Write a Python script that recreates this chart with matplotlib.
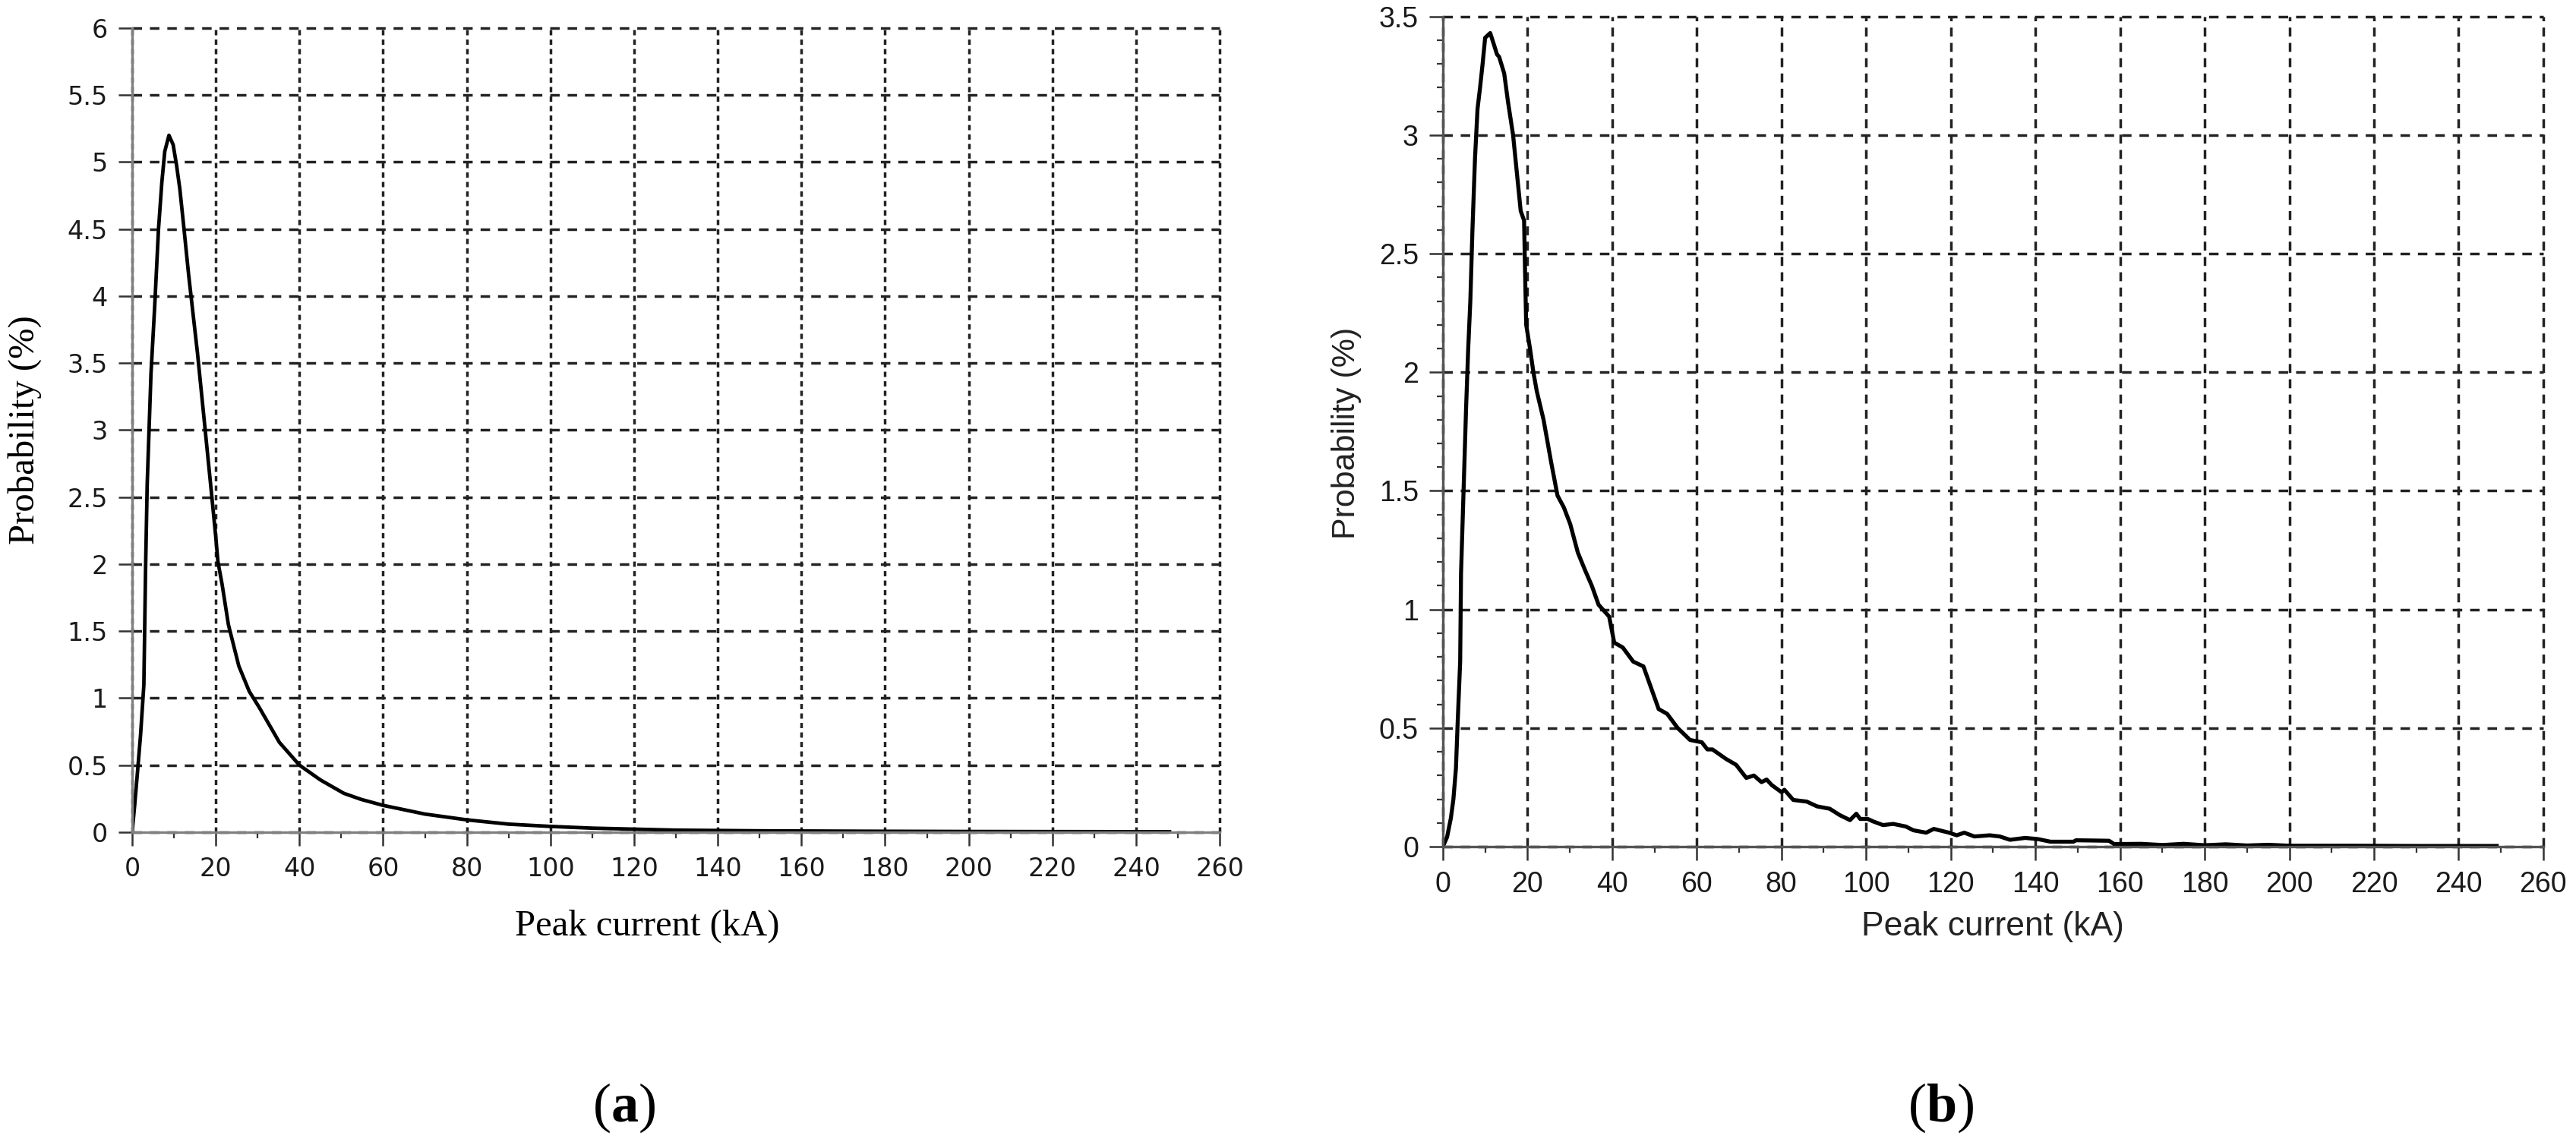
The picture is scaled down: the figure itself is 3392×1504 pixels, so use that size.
#!/usr/bin/env python3
"""Peak current probability distributions, panels (a) and (b)."""

import matplotlib
matplotlib.use('Agg')
import matplotlib.pyplot as plt
from matplotlib.ticker import MultipleLocator

plt.rcParams['mathtext.fontset'] = 'custom'
plt.rcParams['mathtext.rm'] = 'Liberation Serif'
plt.rcParams['mathtext.bf'] = 'Liberation Serif:bold'

# (a) smooth distribution
current_a = [0, 0.6, 1.2, 2.0, 2.8, 3.2, 3.6, 4.5, 5.4, 6.3, 7.1, 7.8, 8.8, 9.8,
             10.6, 11.4, 12.4, 13.5, 15.6, 17.4, 18.9, 20.0, 20.5, 21.5, 23.0,
             25.5, 28.0, 30.4, 35.2, 40, 45, 50.6, 54.7, 60, 70, 80, 90, 100,
             110, 118, 130, 150, 175, 200, 225, 248]
prob_a = [0, 0.2, 0.42, 0.72, 1.1, 1.95, 2.6, 3.42, 3.93, 4.5, 4.85, 5.08, 5.2,
          5.13, 4.98, 4.8, 4.5, 4.16, 3.58, 3.02, 2.55, 2.2, 2.02, 1.85, 1.55,
          1.24, 1.05, 0.93, 0.67, 0.5, 0.39, 0.29, 0.245, 0.2, 0.135, 0.092,
          0.06, 0.043, 0.03, 0.024, 0.015, 0.01, 0.007, 0.005, 0.004, 0.003]

# (b) simulated distribution
current_b = [0, 1.0, 1.9, 2.5, 3.1, 3.5, 4.1, 4.3, 4.9, 5.5, 6.0, 6.5, 7.0, 7.6,
             8.2, 8.8, 9.4, 10.0, 10.6, 11.2, 12.1, 12.8, 13.3, 14.5, 15.4, 16.6,
             17.5, 18.4, 19.2, 19.4, 19.7, 20.6, 21.4, 22.2, 23.8, 25.0, 25.6,
             27.1, 28.6, 30.1, 31.9, 33.5, 35.2, 36.8, 39.3, 40.5, 42.5, 45.0,
             47.4, 49.0, 51.0, 53.0, 55.5, 58.4, 61.2, 62.5, 63.7, 66.9, 69.3,
             71.7, 73.5, 75.3, 76.5, 77.7, 80.0, 80.7, 82.8, 86.0, 88.4, 91.4,
             93.8, 96.2, 97.7, 98.6, 100.4, 101.6, 104.0, 106.4, 109.4, 111.2,
             114.2, 116.0, 119.6, 121.4, 123.2, 125.6, 129.2, 131.6, 134.0,
             137.6, 140.6, 143.6, 149.0, 149.6, 157.4, 158.6, 165, 170, 175, 180,
             185, 190, 195, 200, 215, 230, 249]
prob_b = [0, 0.04, 0.12, 0.2, 0.33, 0.52, 0.78, 1.15, 1.5, 1.85, 2.1, 2.3, 2.6,
          2.9, 3.11, 3.2, 3.3, 3.41, 3.42, 3.43, 3.38, 3.34, 3.33, 3.26, 3.14,
          3.0, 2.84, 2.68, 2.64, 2.45, 2.2, 2.1, 2.0, 1.92, 1.8, 1.68, 1.62,
          1.48, 1.43, 1.36, 1.24, 1.17, 1.1, 1.02, 0.97, 0.86, 0.84, 0.78, 0.76,
          0.68, 0.58, 0.56, 0.5, 0.45, 0.44, 0.41, 0.41, 0.37, 0.345, 0.29, 0.3,
          0.272, 0.283, 0.26, 0.23, 0.24, 0.197, 0.19, 0.17, 0.16, 0.133, 0.112,
          0.139, 0.117, 0.117, 0.107, 0.091, 0.096, 0.085, 0.069, 0.059, 0.075,
          0.059, 0.048, 0.059, 0.043, 0.048, 0.043, 0.029, 0.037, 0.032, 0.021,
          0.021, 0.027, 0.025, 0.011, 0.012, 0.007, 0.012, 0.006, 0.01, 0.005,
          0.008, 0.004, 0.004, 0.003, 0.003]

xticks = list(range(0, 261, 20))
yticks_a = [0, 0.5, 1, 1.5, 2, 2.5, 3, 3.5, 4, 4.5, 5, 5.5, 6]
ylabels_a = ['0', '0.5', '1', '1.5', '2', '2.5', '3', '3.5', '4', '4.5', '5', '5.5', '6']
yticks_b = [0, 0.5, 1, 1.5, 2, 2.5, 3, 3.5]
ylabels_b = ['0', '0.5', '1', '1.5', '2', '2.5', '3', '3.5']

fig = plt.figure(figsize=(33.92, 15.04), dpi=100)
ax1 = fig.add_axes([0.0513, 0.2713, 0.4222, 0.7041])
ax2 = fig.add_axes([0.5601, 0.2586, 0.4272, 0.7270])


def style_axes(ax, yticks, ylabels, ymax, vdash, spine_col, tick_font, tick_size):
    ax.set_xlim(0, 260)
    ax.set_ylim(0, ymax)
    ax.set_xticks(xticks)
    ax.set_xticklabels([str(v) for v in xticks])
    ax.set_yticks(yticks)
    ax.set_yticklabels(ylabels)
    ax.xaxis.set_minor_locator(MultipleLocator(10))
    for s in ['top', 'right']:
        ax.spines[s].set_visible(False)
    for s in ['left', 'bottom']:
        ax.spines[s].set_color(spine_col)
        ax.spines[s].set_linewidth(2.4)
    ax.tick_params(which='major', direction='out', length=13, width=1.8,
                   color='#333333', labelcolor='#1a1a1a', labelsize=tick_size, pad=10)
    ax.tick_params(which='minor', direction='out', length=6, width=1.6, color='#333333')
    for lab in ax.get_xticklabels() + ax.get_yticklabels():
        lab.set_family(tick_font)
    ax.grid(True, axis='y', which='major', color='#222222', linewidth=2.5,
            linestyle=(0, (3.6, 3.0)))
    ax.grid(True, axis='x', which='major', color='#222222', linewidth=2.5,
            linestyle=(0, vdash))
    for gl in ax.get_xgridlines() + ax.get_ygridlines():
        gl.set_clip_on(False)
    ax.set_axisbelow(True)


# (a)
ax1.plot(current_a, prob_a, color='black', linewidth=3.4, solid_joinstyle='round')
style_axes(ax1, yticks_a, ylabels_a, 6, (2.0, 1.6), '#808080', 'DejaVu Sans', 24)
ax1.set_xlabel('Peak current (kA)', family='Liberation Serif', fontsize=35)
ax1.set_ylabel('Probability (%)', family='Liberation Serif', fontsize=35)
ax1.xaxis.set_label_coords(0.4735, -0.117)
ax1.xaxis.label.set_va('center')
ax1.yaxis.set_label_coords(-0.0985, 0.5)
ax1.yaxis.label.set_va('center')

# (b)
ax2.plot(current_b, prob_b, color='black', linewidth=3.8, solid_joinstyle='round')
style_axes(ax2, yticks_b, ylabels_b, 3.5, (3.4, 2.4), '#555555', 'Liberation Sans', 27)
ax2.yaxis.set_minor_locator(MultipleLocator(0.1))
ax2.set_xlabel('Peak current (kA)', family='Liberation Sans', fontsize=32, color='#222222')
ax2.set_ylabel('Probability (%)', family='Liberation Sans', fontsize=31, color='#222222')
ax2.xaxis.set_label_coords(0.5, -0.096)
ax2.xaxis.label.set_va('center')
ax2.yaxis.set_label_coords(-0.0877, 0.4985)
ax2.yaxis.label.set_va('center')

# panel captions
fig.text(0.2421, 0.0532, r'($\mathbf{a}$)', family='Liberation Serif', fontsize=52,
         ha='center', va='top')
fig.text(0.7535, 0.0532, r'($\mathbf{b}$)', family='Liberation Serif', fontsize=52,
         ha='center', va='top')

fig.savefig('out.png', dpi=100)
print("Saved: out.png")
